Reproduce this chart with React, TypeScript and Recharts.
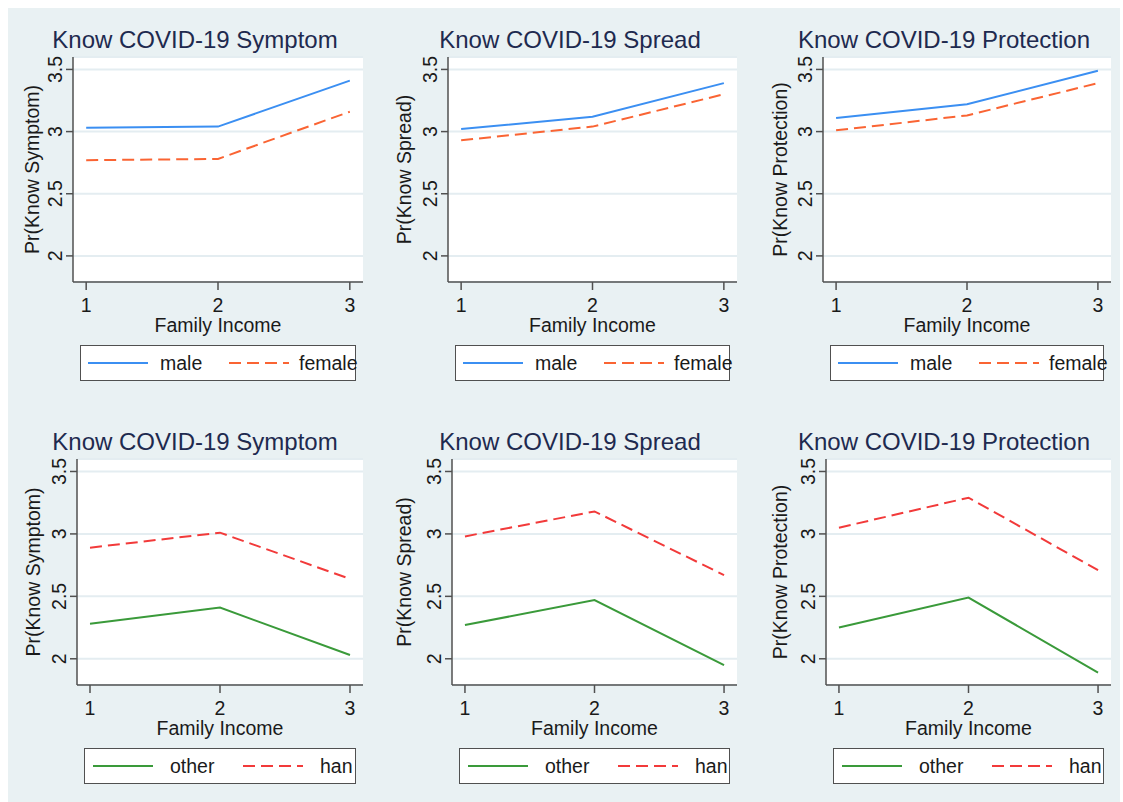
import React from "react";
import { LineChart, Line, XAxis, YAxis, CartesianGrid } from "recharts";

// x = family income level, y = predicted knowledge score
const incomeLevels = [1, 2, 3];
const yTicks = [2, 2.5, 3, 3.5];

const maleSymptom = [3.03, 3.04, 3.41];
const femaleSymptom = [2.77, 2.78, 3.16];
const maleSpread = [3.02, 3.12, 3.39];
const femaleSpread = [2.93, 3.04, 3.3];
const maleProtection = [3.11, 3.22, 3.49];
const femaleProtection = [3.01, 3.13, 3.39];

const otherSymptom = [2.28, 2.41, 2.03];
const hanSymptom = [2.89, 3.01, 2.64];
const otherSpread = [2.27, 2.47, 1.95];
const hanSpread = [2.98, 3.18, 2.67];
const otherProtection = [2.25, 2.49, 1.89];
const hanProtection = [3.05, 3.29, 2.71];

const FONT = '"Liberation Sans", Arial, Helvetica, sans-serif';
const AXIS = "#505050";
const TEXT = "#1a1a1a";
const TITLE = "#1e2a4f";

const BLUE = "#3b8ff2";
const ORANGE = "#fa6433";
const GREEN = "#3a9a3a";
const RED = "#f23a3a";

interface SeriesDef {
  name: string;
  values: number[];
  color: string;
  dashed: boolean;
}

interface PanelDef {
  title: string;
  yLabel: string;
  a: SeriesDef;
  b: SeriesDef;
  // plot area in page pixels
  left: number;
  right: number;
  top: number;
  bottom: number;
  titleX: number;
  labelX: number;
  legendRow: "top" | "bottom";
}

const male = (v: number[]): SeriesDef => ({ name: "male", values: v, color: BLUE, dashed: false });
const female = (v: number[]): SeriesDef => ({ name: "female", values: v, color: ORANGE, dashed: true });
const other = (v: number[]): SeriesDef => ({ name: "other", values: v, color: GREEN, dashed: false });
const han = (v: number[]): SeriesDef => ({ name: "han", values: v, color: RED, dashed: true });

const PANELS: PanelDef[] = [
  { title: "Know COVID-19 Symptom", yLabel: "Pr(Know Symptom)", a: male(maleSymptom), b: female(femaleSymptom),
    left: 73, right: 363, top: 57, bottom: 282, titleX: 195, labelX: 39, legendRow: "top" },
  { title: "Know COVID-19 Spread", yLabel: "Pr(Know Spread)", a: male(maleSpread), b: female(femaleSpread),
    left: 448, right: 737, top: 57, bottom: 282, titleX: 570, labelX: 411, legendRow: "top" },
  { title: "Know COVID-19 Protection", yLabel: "Pr(Know Protection)", a: male(maleProtection), b: female(femaleProtection),
    left: 823, right: 1111, top: 57, bottom: 282, titleX: 944, labelX: 787, legendRow: "top" },
  { title: "Know COVID-19 Symptom", yLabel: "Pr(Know Symptom)", a: other(otherSymptom), b: han(hanSymptom),
    left: 77, right: 363, top: 459, bottom: 685, titleX: 195, labelX: 40, legendRow: "bottom" },
  { title: "Know COVID-19 Spread", yLabel: "Pr(Know Spread)", a: other(otherSpread), b: han(hanSpread),
    left: 452, right: 737, top: 459, bottom: 685, titleX: 570, labelX: 411, legendRow: "bottom" },
  { title: "Know COVID-19 Protection", yLabel: "Pr(Know Protection)", a: other(otherProtection), b: han(hanProtection),
    left: 826, right: 1111, top: 459, bottom: 685, titleX: 944, labelX: 787, legendRow: "bottom" },
];

// legend item offsets inside the box: [lineA, textA, lineB, textB]
const LEGEND_OFFSETS = {
  top: [8, 80, 149, 219],
  bottom: [9, 86, 159, 236],
};

const Y_AXIS_W = 70;
const M_TOP = 50;
const M_RIGHT = 10;
const X_AXIS_H = 60;
const M_BOTTOM = 50;

const YTick = (props: any) => {
  const { x, y, payload } = props;
  return (
    <text
      x={x}
      y={y}
      transform={`rotate(-90, ${x}, ${y})`}
      textAnchor="middle"
      fontSize={19.5}
      fontFamily={FONT}
      fill={TEXT}
    >
      {payload.value}
    </text>
  );
};

function LegendBox({ p }: { p: PanelDef }) {
  const off = LEGEND_OFFSETS[p.legendRow];
  const w = p.right - p.left - 14;
  const h = 36;
  const items = [
    { s: p.a, lx: off[0], tx: off[1] },
    { s: p.b, lx: off[2], tx: off[3] },
  ];
  return (
    <div
      style={{
        position: "absolute",
        left: p.left + 7,
        top: p.bottom + 63,
        width: w,
        height: h,
        boxSizing: "border-box",
        border: `1.5px solid ${AXIS}`,
        background: "#ffffff",
      }}
    >
      <svg width={w} height={h} style={{ position: "absolute", left: -1.5, top: -1.5, overflow: "visible" }}>
        {items.map(({ s, lx, tx }) => (
          <g key={s.name}>
            <line
              x1={lx}
              x2={lx + 60}
              y1={h / 2}
              y2={h / 2}
              stroke={s.color}
              strokeWidth={2}
              strokeDasharray={s.dashed ? "12 6" : undefined}
            />
            <text x={tx} y={h / 2 + 7} fontSize={19.5} fontFamily={FONT} fill={TEXT}>
              {s.name}
            </text>
          </g>
        ))}
      </svg>
    </div>
  );
}

function Panel({ p }: { p: PanelDef }) {
  const plotW = p.right - p.left;
  const plotH = p.bottom - p.top;
  const chartLeft = p.left - Y_AXIS_W;
  const chartTop = p.top - M_TOP;
  const width = Y_AXIS_W + plotW + M_RIGHT;
  const height = M_TOP + plotH + X_AXIS_H + M_BOTTOM;

  const data = incomeLevels.map((x, i) => ({ x, a: p.a.values[i], b: p.b.values[i] }));

  const yLabel = () => {
    const lx = p.labelX - chartLeft;
    const ly = M_TOP + plotH / 2;
    return (
      <text
        x={lx}
        y={ly}
        transform={`rotate(-90, ${lx}, ${ly})`}
        textAnchor="middle"
        fontSize={19.5}
        fontFamily={FONT}
        fill={TEXT}
      >
        {p.yLabel}
      </text>
    );
  };

  const xLabel = () => (
    <text
      x={Y_AXIS_W + plotW / 2}
      y={M_TOP + plotH + 50}
      textAnchor="middle"
      fontSize={19.5}
      fontFamily={FONT}
      fill={TEXT}
    >
      Family Income
    </text>
  );

  return (
    <>
      <div
        style={{
          position: "absolute",
          left: p.titleX - 200,
          width: 400,
          top: p.top - 29,
          textAlign: "center",
          fontFamily: FONT,
          fontSize: 24,
          lineHeight: "24px",
          color: TITLE,
          whiteSpace: "nowrap",
        }}
      >
        {p.title}
      </div>
      <div style={{ position: "absolute", left: chartLeft, top: chartTop }}>
        <LineChart
          width={width}
          height={height}
          data={data}
          margin={{ top: M_TOP, right: M_RIGHT, bottom: M_BOTTOM, left: 0 }}
        >
          <CartesianGrid vertical={false} stroke="#e4edf1" strokeWidth={2} fill="#ffffff" />
          <XAxis
            dataKey="x"
            type="number"
            domain={[0.9, 3.1]}
            ticks={incomeLevels}
            allowDataOverflow
            height={X_AXIS_H}
            tickSize={8}
            tickMargin={8}
            stroke={AXIS}
            strokeWidth={1.5}
            tick={{ fontSize: 19.5, fontFamily: FONT, fill: TEXT }}
            label={xLabel}
          />
          <YAxis
            type="number"
            domain={[1.79, 3.6]}
            ticks={yTicks}
            allowDataOverflow
            width={Y_AXIS_W}
            tickSize={7}
            tickMargin={4}
            stroke={AXIS}
            strokeWidth={1.5}
            tick={<YTick />}
            label={yLabel}
          />
          <Line
            type="linear"
            dataKey="a"
            name={p.a.name}
            stroke={p.a.color}
            strokeWidth={2}
            dot={false}
            isAnimationActive={false}
          />
          <Line
            type="linear"
            dataKey="b"
            name={p.b.name}
            stroke={p.b.color}
            strokeWidth={2}
            strokeDasharray="12 6"
            dot={false}
            isAnimationActive={false}
          />
        </LineChart>
      </div>
      <LegendBox p={p} />
    </>
  );
}

export default function App() {
  return (
    <div
      style={{
        position: "absolute",
        left: 0,
        top: 0,
        width: 1123,
        height: 802,
        background: "#ffffff",
        overflow: "hidden",
        fontFamily: FONT,
      }}
    >
      <div
        style={{
          position: "absolute",
          left: 8,
          top: 8,
          width: 1112,
          height: 794,
          background: "#e9f1f3",
        }}
      />
      {PANELS.map((p, i) => (
        <Panel key={i} p={p} />
      ))}
    </div>
  );
}
